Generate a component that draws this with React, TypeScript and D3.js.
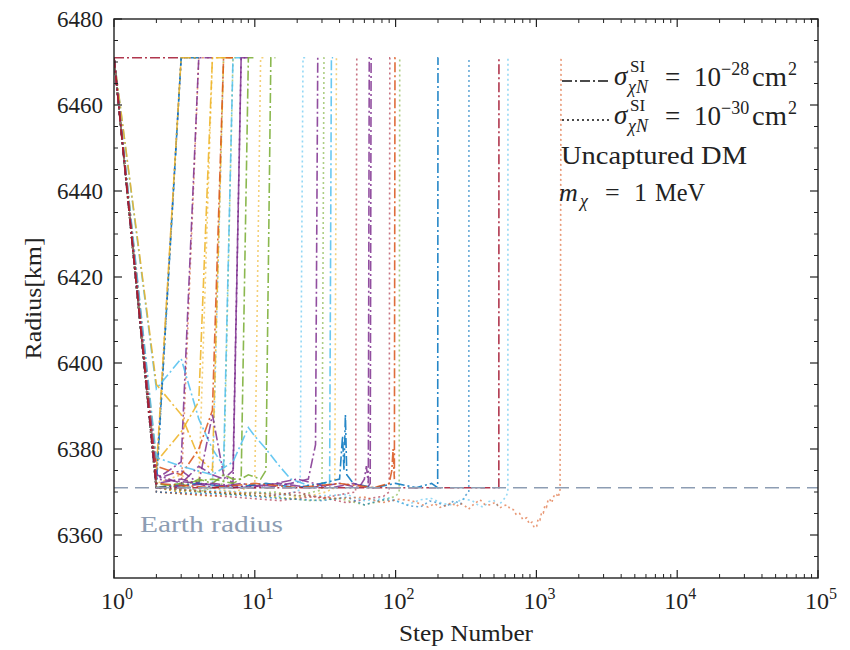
import React from 'react';
import * as d3 from 'd3';

type Pt = [number, number];

// ---------- data ----------
const xTickExponents = [0, 1, 2, 3, 4, 5];
const yTickValues = [6360, 6380, 6400, 6420, 6440, 6460, 6480];
const earthRadiusKm = 6371;
const palette = ['#0072BD', '#D95319', '#EDB120', '#7E2F8E', '#77AC30', '#4DBEEE', '#A2142F'];
const legendCrossSections = ['−28', '−30'];

// sigma = 1e-28 cm^2 (dash-dot) trajectories: [step, radius km]
const dashDotColorIdx = [6, 0, 2, 3, 5, 2, 2, 3, 1, 4, 4, 3, 3, 5, 0, 3, 3, 1, 6];
const dashDotTracks: Pt[][] = [
  [[1, 6471], [2, 6471], [3, 6471]],
  [[1, 6471], [2, 6372], [3, 6471], [4, 6471]],
  [[1, 6471], [2, 6375], [3, 6471], [4, 6471]],
  [[1, 6471], [2, 6373], [3, 6377], [4, 6471], [5, 6471]],
  [[1, 6471], [2, 6394], [3, 6401], [4, 6387], [5, 6380], [6, 6376], [7, 6471], [8, 6471]],
  [[1, 6471], [2, 6395], [3, 6388], [4, 6378], [5, 6375], [6, 6471], [7, 6471]],
  [[1, 6471], [2, 6377], [3, 6384], [4, 6391], [5, 6471], [6, 6471]],
  [[1, 6471], [2, 6373], [3, 6375], [4, 6372], [5, 6388], [6, 6374], [7, 6372], [8, 6471], [9, 6471]],
  [[1, 6471], [2, 6376], [3, 6374], [4, 6380], [5, 6389], [6, 6471], [7, 6471]],
  [[1, 6471], [2, 6372], [3, 6371], [4, 6373], [5, 6372], [6, 6374], [7, 6373], [8, 6373], [9, 6471], [10, 6471]],
  [[1, 6471], [2, 6371], [3, 6372], [5, 6373], [7, 6372], [9, 6374], [11, 6373], [12, 6375], [13, 6471], [14, 6471]],
  [[1, 6471], [2, 6374], [3, 6372], [4, 6376], [5, 6374], [6, 6373], [7, 6375], [8, 6471], [9, 6471]],
  [[1, 6471], [2, 6372], [3, 6373], [5, 6371], [8, 6372], [12, 6371], [18, 6372], [24, 6373], [27, 6381], [28, 6471], [29, 6471]],
  [[1, 6471], [2, 6378], [3, 6376], [5, 6374], [7, 6377], [9, 6385], [10, 6383], [12, 6380], [15, 6376], [18, 6373], [22, 6372], [27, 6371], [31, 6372], [34, 6372], [35, 6471], [36, 6471]],
  [[1, 6471], [2, 6371], [4, 6372], [7, 6371], [12, 6372], [20, 6371], [30, 6372], [40, 6373], [42, 6383], [43, 6375], [44, 6388], [45, 6374], [50, 6372], [70, 6371], [100, 6372], [140, 6371], [180, 6372], [199, 6371], [200, 6471], [201, 6471]],
  [[1, 6471], [2, 6373], [4, 6372], [8, 6371], [15, 6372], [25, 6371], [40, 6372], [55, 6371], [60, 6373], [62, 6376], [63, 6374], [64, 6372], [65, 6471], [66, 6471]],
  [[1, 6471], [2, 6371], [5, 6372], [10, 6371], [20, 6373], [35, 6371], [50, 6372], [63, 6371], [66, 6372], [67, 6471], [68, 6471]],
  [[1, 6471], [2, 6372], [5, 6371], [10, 6372], [20, 6371], [40, 6372], [70, 6371], [90, 6372], [94, 6375], [96, 6380], [97, 6376], [98, 6373], [99, 6471], [100, 6471]],
  [[1, 6471], [2, 6371], [10, 6371], [50, 6371], [150, 6371], [300, 6371], [541, 6371], [542, 6471], [543, 6471]],
];

// sigma = 1e-30 cm^2 (dotted) trajectories: [step, radius km]
const dottedColorIdx = [0, 3, 1, 2, 5, 4, 2, 5, 4, 2, 6, 6, 4, 0, 5, 1];
const dottedTracks: Pt[][] = [
  [[1, 6471], [2, 6371], [3, 6471], [4, 6471]],
  [[1, 6471], [2, 6374], [3, 6471], [4, 6471]],
  [[1, 6471], [2, 6371], [3, 6370], [4, 6471], [5, 6471]],
  [[1, 6471], [2, 6372], [3, 6374], [4, 6371], [5, 6471], [6, 6471]],
  [[1, 6471], [2, 6371], [3, 6370.5], [4, 6372], [5, 6371], [6, 6471], [7, 6471]],
  [[1, 6471], [2, 6371], [3, 6372], [4, 6370], [5, 6371], [6, 6372], [7, 6471], [8, 6471]],
  [[1, 6471], [2, 6371], [3, 6370], [5, 6371], [7, 6370], [9, 6371], [10, 6372], [11, 6471], [12, 6471]],
  [[1, 6471], [2, 6371], [4, 6370], [7, 6369.5], [11, 6370], [15, 6369], [19, 6370], [21, 6370.5], [22, 6471], [23, 6471]],
  [[1, 6471], [2, 6371], [4, 6370], [8, 6369.5], [14, 6370], [20, 6369], [26, 6370], [30, 6370.5], [31, 6471], [32, 6471]],
  [[1, 6471], [2, 6370], [5, 6369], [10, 6370], [16, 6368.5], [24, 6369], [32, 6370], [37, 6371], [38, 6471], [39, 6471]],
  [[1, 6471], [2, 6371], [5, 6370], [12, 6369], [20, 6370], [30, 6368.5], [42, 6369.5], [52, 6370], [53, 6471], [54, 6471]],
  [[1, 6471], [2, 6370], [6, 6369], [15, 6368], [28, 6369], [45, 6367.5], [65, 6368.5], [82, 6369], [90, 6370], [91, 6471], [92, 6471]],
  [[1, 6471], [2, 6371], [5, 6370], [12, 6369], [25, 6368], [40, 6368.5], [60, 6367], [80, 6368], [100, 6369], [106, 6370], [107, 6471], [108, 6471]],
  [[1, 6471], [2, 6370], [6, 6369.5], [15, 6368.5], [30, 6368], [45, 6368.8], [60, 6367], [80, 6368.2], [100, 6368], [125, 6366.8], [150, 6366.5], [175, 6367.9], [200, 6367.5], [230, 6366.6], [260, 6368], [290, 6367.2], [310, 6369], [331, 6370], [332, 6471], [333, 6471]],
  [[1, 6471], [2, 6371], [8, 6370], [25, 6369], [45, 6369.4], [60, 6368], [90, 6368.6], [120, 6367], [150, 6368.2], [180, 6368.5], [215, 6367.3], [250, 6367], [300, 6368.4], [350, 6368], [390, 6366.8], [420, 6366.5], [460, 6367.8], [500, 6368], [530, 6366.9], [560, 6367.5], [590, 6368.4], [610, 6369], [627, 6370], [628, 6471], [629, 6471]],
  [[1, 6471], [2, 6371], [5, 6370], [15, 6369.5], [40, 6368.5], [60, 6368.8], [80, 6367.5], [105, 6368.3], [130, 6368], [150, 6367.2], [170, 6366.5], [190, 6367.3], [207, 6366.4], [230, 6366.9], [250, 6367.5], [270, 6366.6], [287, 6367.4], [310, 6366.8], [330, 6366], [360, 6367.2], [398, 6368.2], [430, 6367.1], [470, 6367], [510, 6367.6], [551, 6366.3], [585, 6366.8], [620, 6367], [650, 6366.1], [686, 6365.9], [720, 6364.7], [760, 6365], [800, 6363.6], [853, 6364], [890, 6362.6], [930, 6363], [965, 6361.7], [1004, 6362], [1030, 6363.8], [1060, 6363.5], [1090, 6365.3], [1120, 6365.1], [1150, 6366.9], [1180, 6366.5], [1215, 6368.4], [1249, 6368.2], [1285, 6367.5], [1320, 6368.8], [1360, 6369.6], [1394, 6369.4], [1430, 6368.8], [1472, 6370.5], [1496, 6471], [1500, 6471]],
];

// ---------- layout ----------
const W = 850;
const H = 650;
const PL = 114;
const PR = 818;
const PT = 19;
const PB = 578;
const FONT = 'Liberation Serif';
const INK = '#222';

export default function App() {
  const x = d3.scaleLog().domain([1, 1e5]).range([PL, PR]);
  const y = d3.scaleLinear().domain([6350, 6480]).range([PB, PT]);
  const line = d3.line<Pt>().x((d) => x(d[0])).y((d) => y(d[1]));

  const xMinor: number[] = [];
  for (let e = 0; e < 5; e++) for (let m = 2; m <= 9; m++) xMinor.push(m * Math.pow(10, e));
  const yMinor = d3.range(6355, 6480, 5).filter((v) => (v - 6360) % 20 !== 0);

  const dashDot = '10,3,2,3';
  const dotted = '2,3';
  const tf = { fontFamily: FONT };

  return (
    <svg width={W} height={H} style={{ position: 'absolute', left: 0, top: 0, background: '#fff' }}>
      <rect x={0} y={0} width={W} height={H} fill="#fff" />
      <defs>
        <clipPath id="plotclip">
          <rect x={PL} y={PT} width={PR - PL} height={PB - PT} />
        </clipPath>
      </defs>

      <g clipPath="url(#plotclip)">
        {dottedTracks.map((t, i) => (
          <path key={'dt' + i} d={line(t) || ''} fill="none" stroke={palette[dottedColorIdx[i]]}
            strokeWidth={1.6} strokeDasharray={dotted} strokeOpacity={0.6} />
        ))}
        {dashDotTracks.map((t, i) => (
          <path key={'dd' + i} d={line(t) || ''} fill="none" stroke={palette[dashDotColorIdx[i]]}
            strokeWidth={1.6} strokeDasharray={dashDot} strokeOpacity={0.85} />
        ))}
        <line x1={PL} x2={PR} y1={y(earthRadiusKm)} y2={y(earthRadiusKm)} stroke="#8d9db3"
          strokeWidth={1.6} strokeDasharray="14,7" />
      </g>

      <text x={140} y={532} style={tf} fontSize={24} fill="#8d9db3" textLength={143}
        lengthAdjust="spacingAndGlyphs">Earth radius</text>

      {/* frame */}
      <rect x={PL} y={PT} width={PR - PL} height={PB - PT} fill="none" stroke={INK} strokeWidth={1.4} />

      {/* x ticks */}
      {xTickExponents.map((e) => {
        const xv = x(Math.pow(10, e));
        return (
          <g key={'xt' + e}>
            <line x1={xv} x2={xv} y1={PB} y2={PB - 8} stroke={INK} strokeWidth={1.2} />
            <line x1={xv} x2={xv} y1={PT} y2={PT + 8} stroke={INK} strokeWidth={1.2} />
            <text x={xv + 3} y={609} textAnchor="middle" style={tf} fontSize={24} fill={INK}>
              <tspan>10</tspan>
              <tspan dy={-10} fontSize={16}>{e}</tspan>
            </text>
          </g>
        );
      })}
      {xMinor.map((v) => (
        <g key={'xm' + v}>
          <line x1={x(v)} x2={x(v)} y1={PB} y2={PB - 4} stroke={INK} strokeWidth={1} />
          <line x1={x(v)} x2={x(v)} y1={PT} y2={PT + 4} stroke={INK} strokeWidth={1} />
        </g>
      ))}

      {/* y ticks */}
      {yTickValues.map((v) => (
        <g key={'yt' + v}>
          <line x1={PL} x2={PL + 8} y1={y(v)} y2={y(v)} stroke={INK} strokeWidth={1.2} />
          <line x1={PR} x2={PR - 8} y1={y(v)} y2={y(v)} stroke={INK} strokeWidth={1.2} />
          <text x={103} y={y(v) + 8} textAnchor="end" style={tf} fontSize={23} fill={INK}
            textLength={46} lengthAdjust="spacingAndGlyphs">{v}</text>
        </g>
      ))}
      {yMinor.map((v) => (
        <g key={'ym' + v}>
          <line x1={PL} x2={PL + 4} y1={y(v)} y2={y(v)} stroke={INK} strokeWidth={1} />
          <line x1={PR} x2={PR - 4} y1={y(v)} y2={y(v)} stroke={INK} strokeWidth={1} />
        </g>
      ))}

      {/* axis titles */}
      <text x={(PL + PR) / 2} y={641} textAnchor="middle" style={tf} fontSize={24} fill={INK}
        textLength={134} lengthAdjust="spacingAndGlyphs">Step Number</text>
      <text transform={`translate(41, ${(PT + PB) / 2}) rotate(-90)`} textAnchor="middle" style={tf}
        fontSize={24} fill={INK} textLength={122} lengthAdjust="spacingAndGlyphs">Radius[km]</text>

      {/* legend */}
      {legendCrossSections.map((exp, i) => {
        const by = 86 + i * 39;
        return (
          <g key={'lg' + i}>
            <line x1={562} x2={610} y1={by - 5} y2={by - 5} stroke="#111" strokeWidth={1.6}
              strokeDasharray={i === 0 ? dashDot : dotted} />
            <text x={614} y={by - 1} style={tf} fontSize={27} fontStyle="italic" fill={INK}>σ</text>
            <text x={630} y={by - 14} style={tf} fontSize={17} fill={INK}>SI</text>
            <text x={628} y={by + 7} style={tf} fontSize={18} fontStyle="italic" fill={INK}>χN</text>
            <text x={665} y={by} style={tf} fontSize={27} fill={INK}>=</text>
            <text x={694} y={by} style={tf} fontSize={27} fill={INK} textLength={27}
              lengthAdjust="spacingAndGlyphs">10</text>
            <text x={721} y={by - 11} style={tf} fontSize={18} fill={INK}>{exp}</text>
            <text x={752} y={by} style={tf} fontSize={27} fill={INK} textLength={35}
              lengthAdjust="spacingAndGlyphs">cm</text>
            <text x={788} y={by - 11} style={tf} fontSize={18} fill={INK}>2</text>
          </g>
        );
      })}
      <text x={561} y={164} style={tf} fontSize={25} fill={INK} textLength={186}
        lengthAdjust="spacingAndGlyphs">Uncaptured DM</text>
      <text x={559} y={201} style={tf} fontSize={26} fontStyle="italic" fill={INK}>m</text>
      <text x={580} y={207} style={tf} fontSize={18} fontStyle="italic" fill={INK}>χ</text>
      <text x={605} y={201} style={tf} fontSize={26} fill={INK}>=</text>
      <text x={634} y={201} style={tf} fontSize={26} fill={INK}>1</text>
      <text x={655} y={201} style={tf} fontSize={26} fill={INK} textLength={50}
        lengthAdjust="spacingAndGlyphs">MeV</text>
    </svg>
  );
}
